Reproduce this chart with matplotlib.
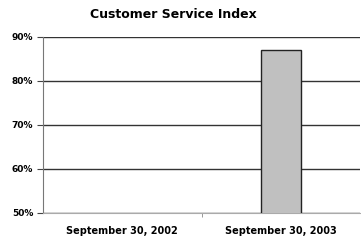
import matplotlib
matplotlib.use("Agg")
import matplotlib.pyplot as plt
import numpy as np

categories = ["September 30, 2002", "September 30, 2003"]
values = [np.nan, 87]
yticks = [50, 60, 70, 80, 90]
ytick_labels = ["50%", "60%", "70%", "80%", "90%"]

plt.rcParams['font.family'] = ['DejaVu Sans']
fig = plt.figure(figsize=(3.61, 2.41), dpi=100)
ax = fig.add_axes([43/361, 1-213/241, 317/361, (213-37)/241])
x = np.arange(len(categories))
ax.bar(x, values, width=0.25, bottom=0, color="#c0c0c0", edgecolor="#222222", linewidth=1.0, zorder=3)
ax.set_xlim(-0.5, 1.5)
ax.set_ylim(50, 90)
ax.set_yticks(yticks)
ax.set_yticklabels(ytick_labels, fontsize=6.5, fontweight='bold')
ax.set_xticks(x)
ax.set_xticklabels(categories, fontsize=7, fontweight='bold')
ax.tick_params(axis='x', length=0, pad=9)
ax.set_xticks([0.5], minor=True)
ax.tick_params(axis='x', which='minor', length=3, color='#888888')
ax.tick_params(axis='y', length=4, pad=3, color='#444444')
ax.yaxis.grid(True, color="#333333", linewidth=1.0, zorder=0)
ax.spines["right"].set_visible(False)
ax.spines["top"].set_visible(False)
ax.spines["left"].set_color("#777777")
ax.spines["bottom"].set_color("#aaaaaa")
fig.text(173/361, 1-15/241, "Customer Service Index", ha="center", va="center", fontsize=9, fontweight="bold")
fig.savefig("out.png", dpi=100)
